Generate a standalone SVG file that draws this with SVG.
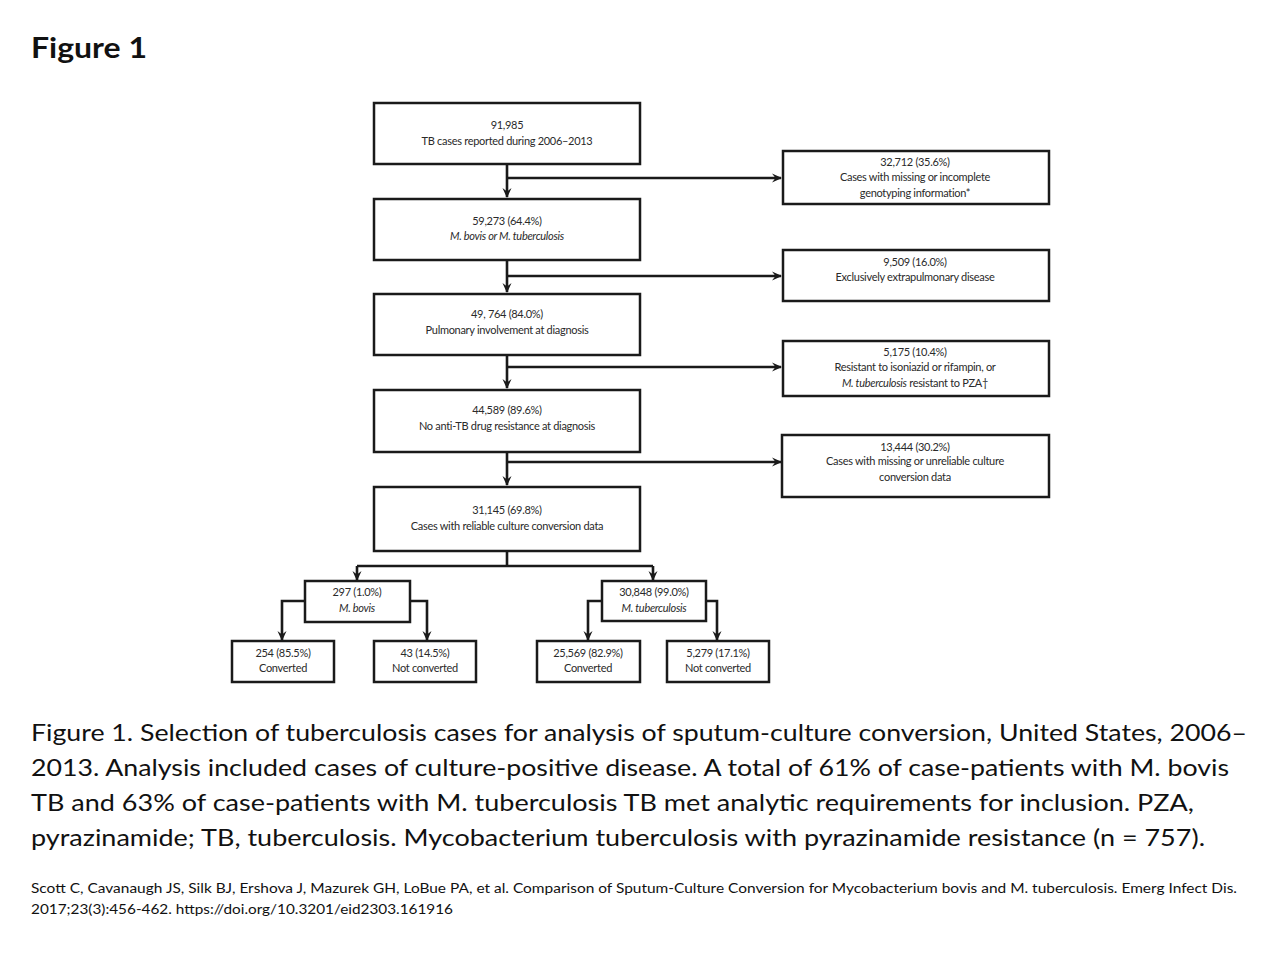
<svg xmlns="http://www.w3.org/2000/svg" width="1280" height="960" viewBox="0 0 1280 960">
<defs>
<marker id="arr" viewBox="0 0 10 10" refX="9" refY="5" markerWidth="10" markerHeight="10" orient="auto" markerUnits="userSpaceOnUse">
<path d="M0,0.5 L10,5 L0,9.5 L3.5,5 Z" fill="#1a1a1a"/>
</marker>
<style>
.box{fill:#fff;stroke:#1a1a1a;stroke-width:2.5}
.t{font-family:Lato,"Open Sans",sans-serif;font-size:11px;fill:#2a2a2a;text-anchor:middle;letter-spacing:-0.3px}
.i{font-style:italic}
.c{fill:none;stroke:#1a1a1a;stroke-width:2.6}
.cap{font-family:Lato,"Open Sans",sans-serif;font-size:23px;fill:#111}
.ref{font-family:Lato,"Open Sans",sans-serif;font-size:13.5px;fill:#111}
</style>
</defs>
<rect width="1280" height="960" fill="#fff"/>
<text x="31" y="58" font-family="Lato,'Open Sans',sans-serif" font-weight="bold" font-size="29" fill="#111" textLength="116" lengthAdjust="spacingAndGlyphs">Figure 1</text>

<g id="connectors">
<path class="c" d="M507,164 V197" marker-end="url(#arr)"/>
<path class="c" d="M507,178 H781" marker-end="url(#arr)"/>
<path class="c" d="M507,260 V292" marker-end="url(#arr)"/>
<path class="c" d="M507,276 H781" marker-end="url(#arr)"/>
<path class="c" d="M507,355 V388" marker-end="url(#arr)"/>
<path class="c" d="M507,367 H781" marker-end="url(#arr)"/>
<path class="c" d="M507,452 V485" marker-end="url(#arr)"/>
<path class="c" d="M507,462 H781" marker-end="url(#arr)"/>
<path class="c" d="M507,551 V566"/>
<path class="c" d="M357,566 H653"/>
<path class="c" d="M357,566 V580" marker-end="url(#arr)"/>
<path class="c" d="M653,566 V580" marker-end="url(#arr)"/>
<path class="c" d="M305,601 H282 V640" marker-end="url(#arr)"/>
<path class="c" d="M410,601 H427 V640" marker-end="url(#arr)"/>
<path class="c" d="M602,601 H588 V640" marker-end="url(#arr)"/>
<path class="c" d="M706,601 H717 V640" marker-end="url(#arr)"/>
</g>

<g id="n1"><rect class="box" x="374" y="103" width="266" height="61"/>
<text class="t" x="507" y="129">91,985</text>
<text class="t" x="507" y="145">TB cases reported during 2006–2013</text></g>

<g id="n2"><rect class="box" x="374" y="199" width="266" height="61"/>
<text class="t" x="507" y="225">59,273 (64.4%)</text>
<text class="t i" x="507" y="240">M. bovis or M. tuberculosis</text></g>

<g id="n3"><rect class="box" x="374" y="294" width="266" height="61"/>
<text class="t" x="507" y="318">49, 764 (84.0%)</text>
<text class="t" x="507" y="334">Pulmonary involvement at diagnosis</text></g>

<g id="n4"><rect class="box" x="374" y="390" width="266" height="62"/>
<text class="t" x="507" y="414">44,589 (89.6%)</text>
<text class="t" x="507" y="430">No anti-TB drug resistance at diagnosis</text></g>

<g id="n5"><rect class="box" x="374" y="487" width="266" height="64"/>
<text class="t" x="507" y="514">31,145 (69.8%)</text>
<text class="t" x="507" y="530">Cases with reliable culture conversion data</text></g>

<g id="r1"><rect class="box" x="783" y="151" width="266" height="53"/>
<text class="t" x="915" y="166">32,712 (35.6%)</text>
<text class="t" x="915" y="181">Cases with missing or incomplete</text>
<text class="t" x="915" y="197">genotyping information*</text></g>

<g id="r2"><rect class="box" x="783" y="250" width="266" height="51"/>
<text class="t" x="915" y="266">9,509 (16.0%)</text>
<text class="t" x="915" y="281">Exclusively extrapulmonary disease</text></g>

<g id="r3"><rect class="box" x="783" y="341" width="266" height="55"/>
<text class="t" x="915" y="356">5,175 (10.4%)</text>
<text class="t" x="915" y="371">Resistant to isoniazid or rifampin, or</text>
<text class="t" x="915" y="387"><tspan class="i">M. tuberculosis</tspan> resistant to PZA†</text></g>

<g id="r4"><rect class="box" x="782" y="435" width="267" height="62"/>
<text class="t" x="915" y="451">13,444 (30.2%)</text>
<text class="t" x="915" y="465">Cases with missing or unreliable culture</text>
<text class="t" x="915" y="481">conversion data</text></g>

<g id="b1"><rect class="box" x="305" y="581" width="105" height="41"/>
<text class="t" x="357" y="596">297 (1.0%)</text>
<text class="t i" x="357" y="612">M. bovis</text></g>

<g id="b2"><rect class="box" x="602" y="581" width="104" height="40"/>
<text class="t" x="654" y="596">30,848 (99.0%)</text>
<text class="t i" x="654" y="612">M. tuberculosis</text></g>

<g id="c1"><rect class="box" x="232" y="641" width="102" height="41"/>
<text class="t" x="283" y="657">254 (85.5%)</text>
<text class="t" x="283" y="672">Converted</text></g>

<g id="c2"><rect class="box" x="374" y="641" width="102" height="41"/>
<text class="t" x="425" y="657">43 (14.5%)</text>
<text class="t" x="425" y="672">Not converted</text></g>

<g id="c3"><rect class="box" x="537" y="641" width="103" height="41"/>
<text class="t" x="588" y="657">25,569 (82.9%)</text>
<text class="t" x="588" y="672">Converted</text></g>

<g id="c4"><rect class="box" x="667" y="641" width="102" height="41"/>
<text class="t" x="718" y="657">5,279 (17.1%)</text>
<text class="t" x="718" y="672">Not converted</text></g>

<g id="caption">
<text class="cap" x="31" y="741" textLength="1216" lengthAdjust="spacingAndGlyphs">Figure 1. Selection of tuberculosis cases for analysis of sputum-culture conversion, United States, 2006–</text>
<text class="cap" x="31" y="776" textLength="1198" lengthAdjust="spacingAndGlyphs">2013. Analysis included cases of culture-positive disease. A total of 61% of case-patients with M. bovis</text>
<text class="cap" x="31" y="811" textLength="1163" lengthAdjust="spacingAndGlyphs">TB and 63% of case-patients with M. tuberculosis TB met analytic requirements for inclusion. PZA,</text>
<text class="cap" x="31" y="846" textLength="1174" lengthAdjust="spacingAndGlyphs">pyrazinamide; TB, tuberculosis. Mycobacterium tuberculosis with pyrazinamide resistance (n = 757).</text>
<text class="ref" x="31" y="893" textLength="1206" lengthAdjust="spacingAndGlyphs">Scott C, Cavanaugh JS, Silk BJ, Ershova J, Mazurek GH, LoBue PA, et al. Comparison of Sputum-Culture Conversion for Mycobacterium bovis and M. tuberculosis. Emerg Infect Dis.</text>
<text class="ref" x="31" y="914" textLength="422" lengthAdjust="spacingAndGlyphs">2017;23(3):456-462. https://doi.org/10.3201/eid2303.161916</text>
</g>
</svg>
